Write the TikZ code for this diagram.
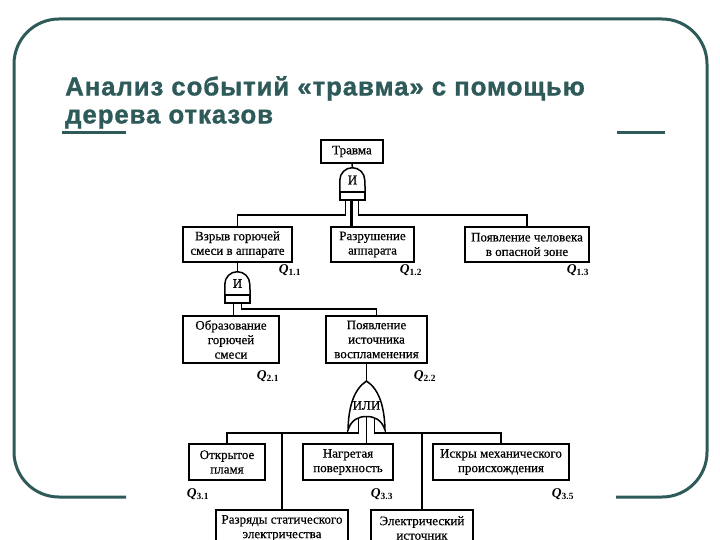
\documentclass[tikz,border=0pt]{standalone}
\usepackage{fontspec}
\setmainfont{Liberation Serif}
\newfontfamily\titlefont{Liberation Sans}[LetterSpace=3.5,FakeBold=1.2]
\newfontfamily\diagfont{Liberation Serif}[FakeBold=0.5]
\usetikzlibrary{calc}
\definecolor{slideteal}{HTML}{2E5B5A}
\newcommand\qlabel[1]{\textbf{\textit{Q}}\textsubscript{\textbf{#1}}}
\begin{document}
\begin{tikzpicture}[x=1pt,y=1pt,
  box/.style={draw, line width=1.6pt, align=center, inner sep=1pt, font=\diagfont\fontsize{13}{14.5}\selectfont},
  conn/.style={line width=1.5pt},
  qlab/.style={font=\fontsize{13.5}{13.5}\selectfont, inner sep=0pt},
  gatetxt/.style={inner sep=0pt, font=\diagfont\fontsize{13}{13}\selectfont},
  frame/.style={draw=slideteal, line width=3pt}]
\useasboundingbox (0,0) rectangle (720,-540);
\clip (0,0) rectangle (720,-540);

% slide frame and title
\draw[frame, rounded corners=45pt] (126,-497) -| (14,-19) -| (707,-497) -- (616,-497);
\node[anchor=north west, inner sep=0pt, align=left, text=slideteal,
      font=\titlefont\bfseries\fontsize{25.8}{28}\selectfont] (title) at (65,-76)
      {Анализ событий «травма» с помощью\\дерева отказов};
\draw[frame] (62,-133) -- (126,-133);
\draw[frame] (617,-133) -- (665,-133);

% level 0
\node[box, minimum width=62pt, minimum height=23pt] (top) at (352,-151.5) {Травма};
\node[gatetxt, minimum width=25pt, minimum height=24pt] (g1) at (352.5,-180) {И};
\draw[conn] (g1.south west) -- ++(0,12) arc[start angle=180, end angle=0, radius=12.5pt] -- (g1.south east);
\draw[conn] (g1.south west) rectangle ($(g1.south east)+(0,-8)$);
\draw[conn] (top.south) -- (g1.north);

% level 1
\node[box, minimum width=109pt, minimum height=35pt] (b11) at (237.5,-244.5) {Взрыв горючей\\смеси в аппарате};
\node[box, minimum width=83pt, minimum height=35pt] (b12) at (372.5,-244.5) {Разрушение\\аппарата};
\node[box, minimum width=124pt, minimum height=35pt] (b13) at (527,-244.5) {Появление человека\\в опасной зоне};
\node[qlab] (q11) at (290,-270) {\qlabel{1.1}};
\node[qlab] (q12) at (411,-270) {\qlabel{1.2}};
\node[qlab] (q13) at (578,-270) {\qlabel{1.3}};

\coordinate (g1L) at ($(g1.south)+(-7,-8)$);
\coordinate (g1M) at ($(g1.south)+(-1,-8)$);
\coordinate (g1R) at ($(g1.south)+(6,-8)$);
\draw[conn] (g1L) |- ($(b11.north)+(0,11)$) -- (b11.north);
\draw[conn, line width=2.6pt] (g1M) -- (g1M |- b12.north);
\draw[conn] (g1R) |- ($(b13.north)+(0,11)$) -- (b13.north);

% gate 2
\node[gatetxt, minimum width=25pt, minimum height=23pt] (g2) at (237.5,-283.5) {И};
\draw[conn] (g2.south west) -- ++(0,11) arc[start angle=180, end angle=0, radius=12.5pt] -- (g2.south east);
\draw[conn] (g2.south west) rectangle ($(g2.south east)+(0,-8)$);
\draw[conn] (b11.south) -- (g2.north);

% level 2
\node[box, minimum width=96pt, minimum height=47pt] (b21) at (231,-339.5) {Образование\\горючей\\смеси};
\node[box, minimum width=101pt, minimum height=47pt] (b22) at (376.5,-339.5) {Появление\\источника\\воспламенения};
\node[qlab] (q21) at (268,-376) {\qlabel{2.1}};
\node[qlab] (q22) at (425,-376) {\qlabel{2.2}};

\coordinate (g2L) at ($(g2.south)+(-4,-8)$);
\coordinate (g2R) at ($(g2.south)+(4,-8)$);
\draw[conn] (g2L) -- (g2L |- b21.north);
\draw[conn] (g2R) |- ($(b22.north)+(0,6)$) -- (b22.north);

% OR gate
\node[gatetxt, minimum width=37pt, minimum height=49pt] (org) at (366.5,-405.5) {ИЛИ};
\begin{scope}[shift={(org.center)}]
\draw[conn] (-18.5,-24.5) .. controls (-18,-2) and (-13,16) .. (0,24.5)
  .. controls (13,16) and (18,-2) .. (18.5,-24.5)
  .. controls (15,-14) and (8,-11) .. (0,-11)
  .. controls (-8,-11) and (-15,-14) .. (-18.5,-24.5) -- cycle;
\end{scope}
\draw[conn] (org.north |- b22.south) -- (org.north);

% level 3
\node[box, minimum width=76pt, minimum height=36pt] (b31) at (227,-462) {Открытое\\пламя};
\node[box, minimum width=90pt, minimum height=36pt] (b33) at (348,-462) {Нагретая\\поверхность};
\node[box, minimum width=136pt, minimum height=36pt] (b35) at (501,-462) {Искры механического\\происхождения};
\node[box, minimum width=132pt, minimum height=36pt] (b32) at (282,-528) {Разряды статического\\электричества};
\node[box, minimum width=102pt, minimum height=36pt] (b34) at (422,-528) {Электрический\\источник};
\node[qlab] (q31) at (198,-494) {\qlabel{3.1}};
\node[qlab] (q33) at (382,-494) {\qlabel{3.3}};
\node[qlab] (q35) at (563,-494) {\qlabel{3.5}};

\coordinate (orL) at ($(org.center)+(-8,-13)$);
\coordinate (orM) at ($(org.center)+(0,-11)$);
\coordinate (orR) at ($(org.center)+(8,-13)$);
\coordinate (busL) at ($(b31.north)+(0,10)$);
\coordinate (busR) at ($(b35.north)+(0,10)$);
\draw[conn] (orL) |- (busL) -- (b31.north);
\draw[conn] (b32.north) -- (b32.north |- busL);
\draw[conn] (orM) -- (orM |- b33.north);
\draw[conn] (orR) |- (busR) -- (b35.north);
\draw[conn] (b34.north) -- (b34.north |- busR);
\end{tikzpicture}
\end{document}
